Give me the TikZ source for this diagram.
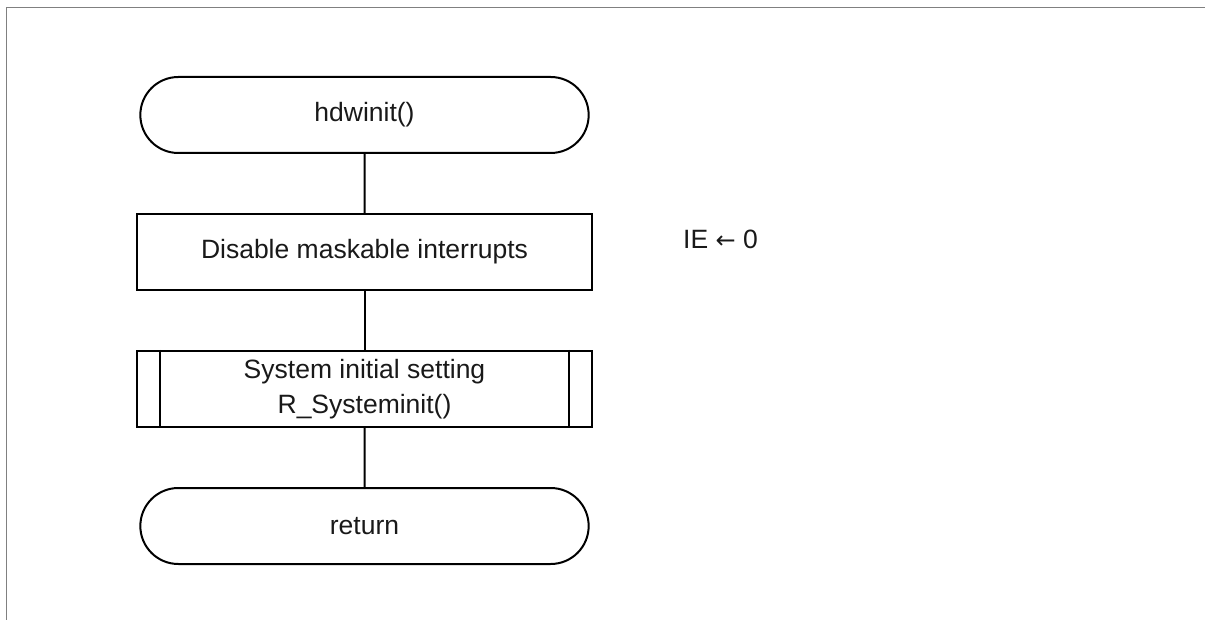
\documentclass[tikz,border=0pt]{standalone}
\usepackage{fontspec}
\setmainfont{Liberation Sans}
\newfontfamily\arrowfont{DejaVu Sans}
\usetikzlibrary{positioning}
\usetikzlibrary{calc}
\usetikzlibrary{shapes.misc}
\tikzset{
    % Lines of the flow chart are all of one weight
    flow line/.style={line width=2pt, black},
%
    % The grey frame that surrounds the whole chart
    frame line/.style={line width=1.5pt, black!50},
%
    % Text of the chart is set rather large
    chart text/.style={font=\fontsize{26.5}{35}\selectfont, text=black!90}}

\begin{document}
\begin{tikzpicture}[x=1pt, y=-1pt,
    node distance=59pt,
    terminal/.style={draw, flow line, chart text, rounded rectangle,
        minimum width=455pt, minimum height=76pt},
    process/.style={draw, flow line, chart text, rectangle,
        minimum width=455pt, minimum height=76pt, align=center},
    subroutine/.style={process, inner sep=0pt}]
\useasboundingbox (0,0) rectangle (1205,620);

% Frame: only the top and left edges show
\draw[frame line] (6.5,620) -- (6.5,7.5) -- (1205,7.5);

% Steps of the flow, top to bottom
\node[terminal] at (364.5,115) (start) {hdwinit()};
\node[process, below=of start] (disable) {Disable maskable interrupts};
\node[subroutine, below=of disable]
    (sysinit) {System initial setting\\R\_Systeminit()};
\node[terminal, below=of sysinit] (return) {return};

% Side bars of the subroutine box
\draw[flow line] ([xshift=24pt]sysinit.north west) --
    ([xshift=24pt]sysinit.south west);
\draw[flow line] ([xshift=-24pt]sysinit.north east) --
    ([xshift=-24pt]sysinit.south east);

% Note beside the first step
\node[chart text, anchor=west, inner sep=0pt]
    at ($(disable.east)+(90pt,13pt)$) (ienote)
    {IE {\arrowfont\fontsize{24}{30}\selectfont ←} 0};

% Connectors
\draw[flow line] (start) -- (disable);
\draw[flow line] (disable) -- (sysinit);
\draw[flow line] (sysinit) -- (return);
\end{tikzpicture}
\end{document}
